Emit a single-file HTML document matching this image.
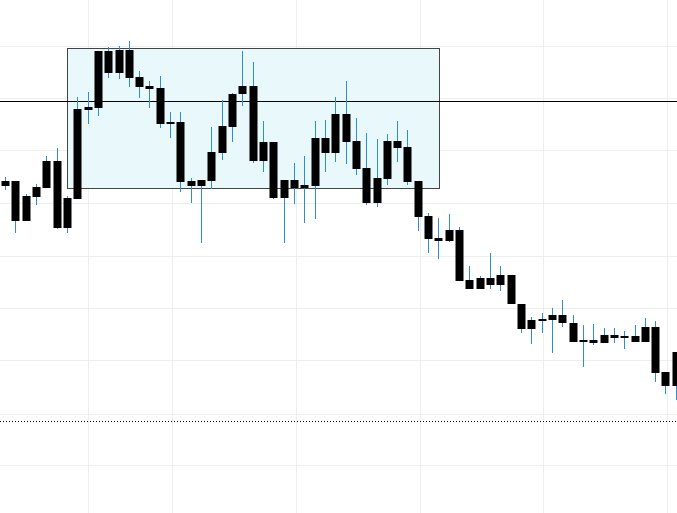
<!DOCTYPE html>
<html><head><meta charset="utf-8"><style>
html,body{margin:0;padding:0;background:#fff;}
svg{display:block;font-family:"Liberation Sans",sans-serif;}
</style></head><body>
<svg id="chart" width="677" height="513">
<g id="grid"></g>
<rect x="67.5" y="48.5" width="372" height="140" fill="#e9f8fa" stroke="#444" stroke-width="1"/>
<line x1="0" x2="677" y1="101.5" y2="101.5" stroke="#000" stroke-width="1"/>
<line x1="0" x2="677" y1="421.5" y2="421.5" stroke="#000" stroke-width="1" stroke-dasharray="1,2"/>
<g id="candles"></g>
</svg>
<script>
// values: price units (higher = up)
const opens  = [319,319,304,313,339,339,302,391,393,449,449,450,450,423,414,412,378,378,319,320,348,374,406,414,414,358,358,320,320,315,362,362,386,386,359,332,322,359,359,353,319,284,262,270,270,220,222,222,225,225,196,180,181,185,185,177,160,160,165,165,164,164,173,173,128,148];
const closes = [314,279,279,303,312,272,272,301,390,392,427,427,422,413,411,376,376,318,314,314,319,347,373,406,339,339,302,302,312,312,314,347,347,358,331,297,297,321,352,318,283,261,259,259,219,211,211,215,215,196,171,171,180,180,177,158,158,157,157,162,163,158,158,127,114,114];
const highs  = [323,319,306,316,344,352,304,403,408,408,453,454,459,429,419,424,388,388,322,320,373,400,407,449,438,379,358,320,337,344,379,380,403,419,382,367,361,366,379,370,319,287,282,286,273,234,224,247,234,225,196,183,187,192,200,185,175,176,172,172,169,175,182,179,128,148];
const lows   = [310,267,279,295,312,271,267,301,376,384,422,421,413,402,392,372,362,308,297,257,311,340,358,394,337,328,301,257,296,277,281,328,338,336,325,295,293,315,338,315,269,247,241,258,258,211,211,211,209,196,167,156,167,147,173,158,133,155,157,157,151,158,173,118,106,100];
const tickYs = [40,90,140,190,240,290,340,390,440]; // gridline price values (unlabelled)
const gridXs = [88,172,296,420,543,667];

const yScale = v => 500 - v;
const xScale = i => 5 + i * 10.32;
const NS = "http://www.w3.org/2000/svg";
const grid = document.getElementById('grid');
const hY = [454,402,350,297,244,192,140,86,35];
hY.forEach((v,i)=>{
  const l=document.createElementNS(NS,'line');
  l.setAttribute('x1',0);l.setAttribute('x2',677);
  l.setAttribute('y1',yScale(v)+0.5);l.setAttribute('y2',yScale(v)+0.5);
  l.setAttribute('stroke','#eeeeee');
  
  
  grid.appendChild(l);
});
gridXs.forEach(x=>{
  const l=document.createElementNS(NS,'line');
  l.setAttribute('x1',x+0.5);l.setAttribute('x2',x+0.5);
  l.setAttribute('y1',0);l.setAttribute('y2',513);
  l.setAttribute('stroke','#eeeeee');
  
  
  grid.appendChild(l);
});
const cg = document.getElementById('candles');
opens.forEach((o,i)=>{
  const c=closes[i], x=xScale(i);
  const g=document.createElementNS(NS,'g');
  
  
  const w=document.createElementNS(NS,'line');
  w.setAttribute('x1',Math.round(x)+0.5);w.setAttribute('x2',Math.round(x)+0.5);
  w.setAttribute('y1',yScale(highs[i]));w.setAttribute('y2',yScale(lows[i]));
  w.setAttribute('stroke','#2b8fd6');w.setAttribute('stroke-width',1);
  
  
  g.appendChild(w);
  const top=yScale(Math.max(o,c)), bot=yScale(Math.min(o,c));
  const r=document.createElementNS(NS,'rect');
  r.setAttribute('x',Math.round(x)-3.5);r.setAttribute('width',8);
  r.setAttribute('y',top);r.setAttribute('height',Math.max(2,bot-top));
  r.setAttribute('fill','#000');
  
  
  g.appendChild(r);
  cg.appendChild(g);
});
</script>
</body></html>
